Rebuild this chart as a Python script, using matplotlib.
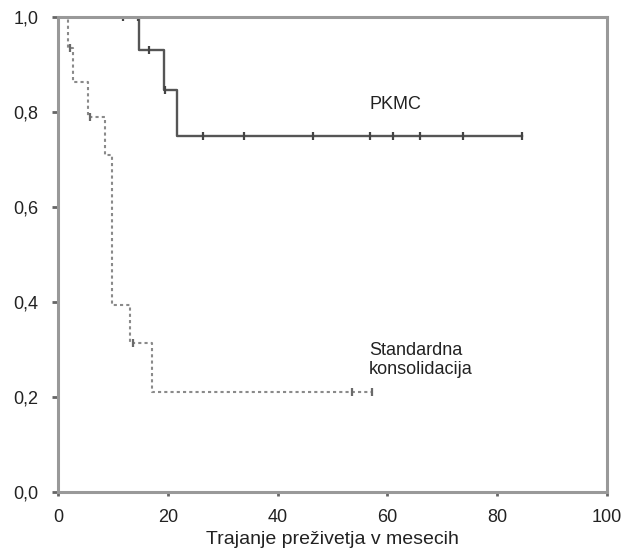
import matplotlib
matplotlib.use("Agg")
import matplotlib.pyplot as plt
from matplotlib.ticker import FuncFormatter

plt.rcParams["font.family"] = ["Liberation Sans", "DejaVu Sans"]

# PKMC curve (step times / survival) and censored points
pkmc_t = [0, 14.8, 19.3, 21.6, 84.5]
pkmc_s = [1.0, 0.93, 0.846, 0.75, 0.75]
pkmc_cens_t = [11.8, 14.5, 16.6, 19.5, 26.5, 33.8, 46.5, 56.8, 61.1, 65.9, 73.8, 84.5]
pkmc_cens_s = [1.0, 1.0, 0.93, 0.846, 0.75, 0.75, 0.75, 0.75, 0.75, 0.75, 0.75, 0.75]

# standard consolidation curve
std_t = [0, 1.9, 2.7, 5.5, 8.6, 9.9, 13.1, 17.1, 57.1]
std_s = [1.0, 0.935, 0.863, 0.789, 0.709, 0.394, 0.314, 0.211, 0.211]
std_cens_t = [2.2, 5.8, 13.7, 53.5, 57.1]
std_cens_s = [0.935, 0.789, 0.314, 0.211, 0.211]

x_ticks = [0, 20, 40, 60, 80, 100]
y_ticks = [0.0, 0.2, 0.4, 0.6, 0.8, 1.0]

fig = plt.figure(figsize=(6.22, 5.5), dpi=100)
ax = fig.add_axes([0.0932, 0.1055, 0.8828, 0.8635])

ax.step(std_t, std_s, where="post", color="#8a8a8a", linestyle=(0, (1.5, 1.5)),
        linewidth=1.5)
ax.plot(std_cens_t, std_cens_s, linestyle="none", marker="|", markersize=6,
        markeredgewidth=1.6, color="#6a6a6a")

ax.step(pkmc_t, pkmc_s, where="post", color="#555555", linewidth=1.7)
ax.plot(pkmc_cens_t, pkmc_cens_s, linestyle="none", marker="|", markersize=6,
        markeredgewidth=1.6, color="#444444")

ax.set_xlim(0, 100)
ax.set_ylim(0, 1.0)
ax.set_xticks(x_ticks)
ax.set_yticks(y_ticks)
ax.yaxis.set_major_formatter(FuncFormatter(lambda v, p: f"{v:.1f}".replace(".", ",")))
ax.tick_params(axis="y", direction="out", length=4, width=2, color="#666666",
               labelsize=13, labelcolor="#222222", pad=10)
ax.tick_params(axis="x", direction="out", length=3, width=2, color="#666666",
               labelsize=13, labelcolor="#222222", pad=9)

for sp in ax.spines.values():
    sp.set_color("#999999")
    sp.set_linewidth(2.2)

ax.text(61.5, 0.815, "PKMC", fontsize=13, ha="center", va="center", color="#222222")
ax.text(56.6, 0.278, "Standardna\nkonsolidacija", fontsize=13, ha="left",
        va="center", color="#222222", linespacing=1.15)

ax.set_xlabel("Trajanje preživetja v mesecih", fontsize=14, color="#222222", labelpad=4)

fig.savefig("out.png", dpi=100)
